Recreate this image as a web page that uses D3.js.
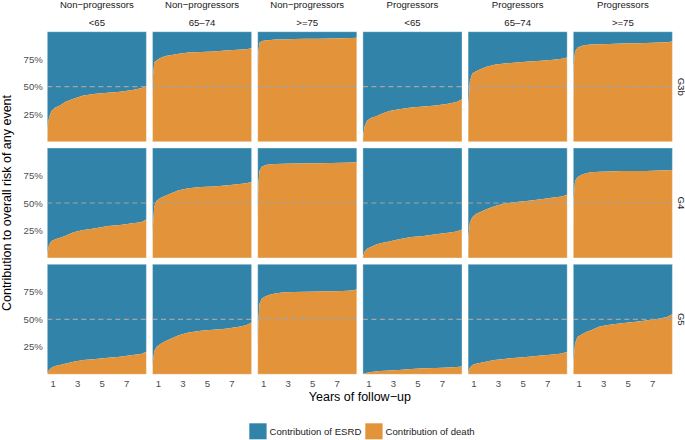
<!DOCTYPE html>
<html>
<head>
<meta charset="utf-8">
<script src="https://cdn.jsdelivr.net/npm/d3@7"></script>
<style>
  html, body { margin: 0; padding: 0; background: #ffffff; }
  svg { display: block; }
  text { font-family: "Liberation Sans", Arial, Helvetica, sans-serif; }
</style>
</head>
<body>
<svg id="chart" width="685" height="440"></svg>
<script>
// ---------- data ----------
const rowLabels = ["G3b", "G4", "G5"];
const colGroups = ["Non\u2212progressors", "Non\u2212progressors", "Non\u2212progressors",
                   "Progressors", "Progressors", "Progressors"];
const colAges = ["<65", "65\u201374", ">=75", "<65", "65\u201374", ">=75"];
const years = [0.56, 0.6, 0.7, 0.9, 1.2, 1.6, 2.0, 2.7, 3.5, 4.5, 5.5, 6.5, 7.5, 8.2, 8.64];
const xTicks = [1, 3, 5, 7];
const yTicks = [0.25, 0.5, 0.75];
const yTickLabels = ["25%", "50%", "75%"];
const legendLabels = ["Contribution of ESRD", "Contribution of death"];

// share of death in overall risk (per panel, columns in order above)
const deathG3b = [
  [0.05, 0.15, 0.22, 0.28, 0.31, 0.33, 0.36, 0.39, 0.42, 0.435, 0.445, 0.455, 0.47, 0.485, 0.505],
  [0.35, 0.60, 0.72, 0.74, 0.76, 0.78, 0.785, 0.80, 0.81, 0.815, 0.82, 0.83, 0.835, 0.84, 0.85],
  [0.50, 0.80, 0.90, 0.915, 0.92, 0.925, 0.928, 0.93, 0.933, 0.935, 0.937, 0.938, 0.94, 0.942, 0.945],
  [0.02, 0.07, 0.14, 0.19, 0.215, 0.23, 0.25, 0.28, 0.295, 0.31, 0.32, 0.33, 0.345, 0.36, 0.385],
  [0.15, 0.35, 0.55, 0.62, 0.64, 0.66, 0.68, 0.70, 0.71, 0.72, 0.73, 0.735, 0.745, 0.755, 0.765],
  [0.40, 0.70, 0.82, 0.855, 0.87, 0.878, 0.883, 0.886, 0.889, 0.892, 0.895, 0.898, 0.902, 0.905, 0.91]
];
const deathG4 = [
  [0.02, 0.06, 0.12, 0.155, 0.17, 0.185, 0.20, 0.235, 0.255, 0.27, 0.29, 0.30, 0.315, 0.325, 0.35],
  [0.12, 0.30, 0.47, 0.52, 0.545, 0.565, 0.585, 0.615, 0.635, 0.645, 0.65, 0.66, 0.67, 0.68, 0.69],
  [0.35, 0.65, 0.79, 0.83, 0.845, 0.852, 0.855, 0.857, 0.858, 0.86, 0.862, 0.864, 0.866, 0.868, 0.873],
  [0.01, 0.025, 0.06, 0.085, 0.10, 0.12, 0.135, 0.15, 0.17, 0.19, 0.20, 0.215, 0.23, 0.24, 0.26],
  [0.08, 0.20, 0.32, 0.37, 0.40, 0.42, 0.44, 0.47, 0.495, 0.51, 0.52, 0.535, 0.55, 0.56, 0.575],
  [0.30, 0.55, 0.70, 0.735, 0.755, 0.77, 0.78, 0.785, 0.787, 0.79, 0.79, 0.792, 0.795, 0.797, 0.80]
];
const deathG5 = [
  [0.005, 0.02, 0.04, 0.06, 0.075, 0.085, 0.095, 0.115, 0.13, 0.14, 0.15, 0.16, 0.175, 0.185, 0.205],
  [0.05, 0.12, 0.21, 0.25, 0.275, 0.30, 0.32, 0.355, 0.38, 0.395, 0.405, 0.415, 0.43, 0.445, 0.47],
  [0.25, 0.45, 0.64, 0.69, 0.71, 0.725, 0.735, 0.745, 0.748, 0.75, 0.752, 0.755, 0.758, 0.762, 0.77],
  [0.0, 0.005, 0.01, 0.015, 0.02, 0.025, 0.03, 0.035, 0.04, 0.048, 0.055, 0.058, 0.062, 0.066, 0.072],
  [0.01, 0.03, 0.06, 0.085, 0.095, 0.105, 0.115, 0.13, 0.14, 0.15, 0.16, 0.17, 0.18, 0.19, 0.205],
  [0.05, 0.15, 0.28, 0.34, 0.36, 0.385, 0.40, 0.435, 0.45, 0.465, 0.475, 0.49, 0.505, 0.52, 0.545]
];
const deathRows = [deathG3b, deathG4, deathG5];

// ---------- style ----------
const BLUE = "#3183A9";
const ORANGE = "#E3943A";
const TXT = "#4d4d4d";

const svg = d3.select("#chart");

const colScale = d3.scaleBand().domain(d3.range(colAges.length))
  .range([47.3, 672.4]).paddingInner(0.058).paddingOuter(0);
const rowScale = d3.scaleBand().domain(d3.range(rowLabels.length))
  .range([31.7, 374.3]).paddingInner(0.054).paddingOuter(0);
const pw = colScale.bandwidth(), ph = rowScale.bandwidth();

const x = d3.scaleLinear().domain([0.56, 8.64]).range([0, pw]);
const y = d3.scaleLinear().domain([0, 1]).range([ph, 0]);

const areaDeath = d3.area().x((d, i) => x(years[i])).y0(y(0)).y1(d => y(d));
const areaEsrd = d3.area().x((d, i) => x(years[i])).y0(d => y(d)).y1(y(1));

rowLabels.forEach((rl, r) => {
  colAges.forEach((ca, c) => {
    const vals = deathRows[r][c];
    const g = svg.append("g").attr("transform", `translate(${colScale(c)},${rowScale(r)})`);
    g.append("path").datum(vals).attr("d", areaEsrd).attr("fill", BLUE);
    g.append("path").datum(vals).attr("d", areaDeath).attr("fill", ORANGE);
    g.append("line")
      .attr("x1", 0).attr("x2", pw).attr("y1", y(0.5)).attr("y2", y(0.5))
      .attr("stroke", "#a3a3a3").attr("stroke-width", 1.2).attr("stroke-dasharray", "5,3.5");
    g.append("rect").attr("width", pw).attr("height", ph)
      .attr("fill", "none").attr("stroke", "rgba(255,255,255,0.35)").attr("stroke-width", 1);
  });
});

// y axis tick labels (first column only)
rowLabels.forEach((rl, r) => {
  const g = svg.append("g").attr("transform", `translate(${colScale(0)},${rowScale(r)})`);
  const ax = d3.axisLeft(y).tickValues(yTicks).tickFormat((d, i) => yTickLabels[i]).tickSize(0).tickPadding(4.5);
  g.call(ax);
  g.select(".domain").remove();
  g.selectAll("text").attr("fill", TXT).style("font-size", "9.6px")
    .style("font-family", "'Liberation Sans', Arial, sans-serif");
});

// x axis tick labels (bottom row only)
colAges.forEach((ca, c) => {
  const g = svg.append("g").attr("transform", `translate(${colScale(c)},${rowScale(rowLabels.length - 1) + ph})`);
  const ax = d3.axisBottom(x).tickValues(xTicks).tickFormat(d3.format("d")).tickSize(0).tickPadding(6);
  g.call(ax);
  g.select(".domain").remove();
  g.selectAll("text").attr("fill", TXT).style("font-size", "9.6px")
    .style("font-family", "'Liberation Sans', Arial, sans-serif");
});

// column strips
colAges.forEach((ca, c) => {
  const cx = colScale(c) + pw / 2;
  svg.append("text").attr("x", cx).attr("y", 8.4).attr("text-anchor", "middle")
    .attr("fill", "#1a1a1a").style("font-size", "9.6px").text(colGroups[c]);
  svg.append("text").attr("x", cx).attr("y", 26.3).attr("text-anchor", "middle")
    .attr("fill", "#1a1a1a").style("font-size", "9.6px").text(ca);
});

// row strips
rowLabels.forEach((rl, r) => {
  const cy = rowScale(r) + ph / 2;
  svg.append("text").attr("transform", `translate(677.5,${cy}) rotate(90)`)
    .attr("text-anchor", "middle").attr("fill", "#1a1a1a").style("font-size", "9.6px").text(rl);
});

// axis titles
svg.append("text").attr("transform", `translate(10.5,${(31.7 + 374.3) / 2}) rotate(-90)`)
  .attr("text-anchor", "middle").attr("fill", "#000").style("font-size", "12.5px")
  .text("Contribution to overall risk of any event");
svg.append("text").attr("x", (47.3 + 672.4) / 2).attr("y", 401)
  .attr("text-anchor", "middle").attr("fill", "#000").style("font-size", "12.5px")
  .text("Years of follow\u2212up");

// legend
const legendColors = [BLUE, ORANGE];
const legendX = [249.3, 365.3];
legendLabels.forEach((lab, i) => {
  svg.append("rect").attr("x", legendX[i]).attr("y", 423.3).attr("width", 17.3).attr("height", 16)
    .attr("fill", legendColors[i]);
  svg.append("text").attr("x", legendX[i] + 20.3).attr("y", 435).attr("fill", "#1a1a1a")
    .style("font-size", "9.6px").text(lab);
});
</script>
</body>
</html>
